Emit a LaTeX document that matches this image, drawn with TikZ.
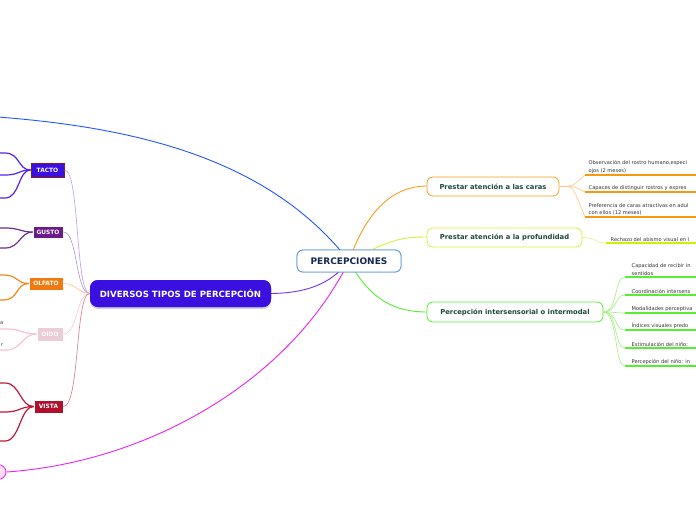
\documentclass[tikz,border=0pt]{standalone}
\usepackage{fontspec}
\setmainfont{DejaVu Sans}
\usetikzlibrary{shapes.geometric,shadows}
\definecolor{percborder}{HTML}{5B9BD5}
\definecolor{perctext}{HTML}{142850}
\definecolor{branchtext}{HTML}{1B4A3C}
\definecolor{orangeB}{HTML}{F5A020}
\definecolor{orangeL}{HTML}{FFC880}
\definecolor{orangeU}{HTML}{F59A10}
\definecolor{yellowB}{HTML}{D8F040}
\definecolor{yellowU}{HTML}{D0F000}
\definecolor{greenB}{HTML}{55EE33}
\definecolor{greenL}{HTML}{A0F080}
\definecolor{blueline}{HTML}{2255FF}
\definecolor{magline}{HTML}{EE22EE}
\definecolor{purpline}{HTML}{7733EE}
\definecolor{violetF}{HTML}{3A10E0}
\definecolor{tactoB}{HTML}{8B1A1A}
\definecolor{gustoF}{HTML}{6A1A8A}
\definecolor{olfatoF}{HTML}{F07A10}
\definecolor{oidoF}{HTML}{ECCCD6}
\definecolor{vistaF}{HTML}{B0102A}
\definecolor{tactoL}{HTML}{5522EE}
\definecolor{gustoL}{HTML}{6B3090}
\definecolor{olfatoL}{HTML}{F08A1A}
\definecolor{oidoL}{HTML}{F8C4D4}
\definecolor{vistaL}{HTML}{C01A3A}
\definecolor{leaftext}{HTML}{333333}
\tikzset{
  mainbox/.style={draw=percborder, line width=0.8pt, fill=white, rounded corners=6pt, inner sep=0pt,
    font=\fontsize{9}{10}\selectfont\bfseries, text=perctext},
  branchbox/.style={line width=0.8pt, fill=white, rounded corners=6pt, inner sep=0pt,
    font=\fontsize{6.8}{8}\selectfont\bfseries, text=branchtext, minimum height=19pt},
  subbox/.style={inner sep=0pt, font=\fontsize{5.9}{6.5}\selectfont\bfseries, text=white, draw=white, line width=0.6pt},
  leaf/.style={inner sep=0.5pt, font=\fontsize{5.1}{7.4}\selectfont, text=leaftext, align=left, anchor=south west},
  thin/.style={line width=0.6pt},
  uline/.style={line width=1.5pt},
  lleaf/.style={line width=1.2pt}
}
\begin{document}
\begin{tikzpicture}[x=1pt,y=-1pt]
\useasboundingbox (0,0) rectangle (696,520);
\clip (0,0) rectangle (696,520);
\fill[white] (0,0) rectangle (696,520);

\coordinate (blueend) at (-2,117);

\node[mainbox, minimum width=104pt, minimum height=22pt] (perc) at (349,261) {PERCEPCIONES};
\node[ellipse, draw=magline, fill=oidoF!70!magline!30, line width=0.8pt, minimum width=16pt, minimum height=15pt, inner sep=0pt] (pinkell) at (-2,472) {};
\node[fill=violetF, rounded corners=8pt, inner sep=0pt, minimum width=181pt, minimum height=27pt,
  drop shadow={opacity=0.35, shadow xshift=0pt, shadow yshift=-2pt},
  font=\fontsize{8.6}{9}\selectfont\bfseries, text=white] (div) at (180.5,293.5) {DIVERSOS TIPOS DE PERCEPCIÓN};

\draw[blueline, line width=0.9pt] (blueend) .. controls (140,128) and (270,160) .. (perc.center);
\draw[magline, line width=0.9pt] (pinkell.east) .. controls (150,462) and (290,380) .. (perc.center);
\draw[purpline, line width=0.9pt] (div.east) .. controls (305,293) and (330,285) .. (perc.center);
\draw[orangeB, line width=0.9pt] (perc.center) .. controls (365,215) and (390,186) .. (427,186);
\draw[yellowB, line width=0.9pt] (perc.center) .. controls (390,240) and (400,237) .. (427,237);
\draw[greenB, line width=0.9pt] (perc.center) .. controls (370,300) and (395,312) .. (427,312);

\node[mainbox, minimum width=104pt, minimum height=22pt] (percTop) at (349,261) {PERCEPCIONES};
\node[fill=violetF, rounded corners=8pt, inner sep=0pt, minimum width=181pt, minimum height=27pt,
  font=\fontsize{8.6}{9}\selectfont\bfseries, text=white] (divTop) at (180.5,293.5) {DIVERSOS TIPOS DE PERCEPCIÓN};

\node[branchbox, draw=orangeB, minimum width=132pt] (caras) at (493,186.5) {Prestar atención a las caras};
\node[branchbox, draw=yellowB, minimum width=155pt] (prof) at (504.5,237.5) {Prestar atención a la profundidad};
\node[branchbox, draw=greenB, minimum width=176pt, minimum height=20pt] (inter) at (515,312) {Percepción intersensorial o intermodal};

\coordinate (c1) at (585,175);
\coordinate (c2) at (585,192);
\coordinate (c3) at (585,217);
\foreach \c in {c1,c2,c3}{
  \draw[orangeL, thin] (caras.east) .. controls (575,186) and (572,186) .. (\c);
  \draw[orangeU, uline] (\c) -- ++(120,0);
}
\node[leaf] (l1) at (588,174) {Observación del rostro humano,especi\\ojos (2 meses)};
\node[leaf] (l2) at (588,191) {Capaces de distinguir rostros y expres};
\node[leaf] (l3) at (588,216) {Preferencia de caras atractivas en adul\\con ellos (12 meses)};

\coordinate (p1) at (606,243);
\draw[yellowB!70, thin] (prof.east) .. controls (595,237) and (595,243) .. (p1);
\draw[yellowU, uline] (p1) -- ++(100,0);
\node[leaf] (l4) at (610,242) {Rechazo del abismo visual en l};

\foreach \n/\y in {i1/277,i2/295,i3/313,i4/330,i5/348,i6/366}{
  \coordinate (\n) at (625,\y);
  \draw[greenL, thin] (inter.east) .. controls (618,312) and (614,\y) .. (\n);
  \draw[greenB, uline] (\n) -- ++(80,0);
}
\node[leaf] (m1) at (631,276) {Capacidad de recibir in\\sentidos};
\node[leaf] (m2) at (631,294) {Coordinación intersens};
\node[leaf] (m3) at (631,312) {Modalidades perceptiva};
\node[leaf] (m4) at (631,329) {Índices visuales predo};
\node[leaf] (m5) at (631,347) {Estimulación del niño:};
\node[leaf] (m6) at (631,365) {Percepción del niño: in};

\node[subbox, fill=violetF, draw=tactoB, line width=0.9pt, minimum width=33pt, minimum height=14pt] (tacto) at (47.5,170) {TACTO};
\node[subbox, fill=gustoF, minimum width=30pt, minimum height=12pt] (gusto) at (48,232) {GUSTO};
\node[subbox, fill=olfatoF, minimum width=34pt, minimum height=13pt] (olfato) at (46,283.5) {OLFATO};
\node[subbox, fill=oidoF, text=white!92!oidoF, minimum width=26pt, minimum height=14pt] (oido) at (50,334) {OÍDO};
\node[subbox, fill=vistaF, minimum width=29pt, minimum height=13pt] (vista) at (48.5,406.5) {VISTA};

\draw[purpline!50, thin] (div.west) .. controls (75,293) and (80,170) .. (tacto.east);
\draw[gustoL!50, thin] (div.west) .. controls (75,293) and (78,232) .. (gusto.east);
\draw[orangeL, thin] (div.west) .. controls (78,293) and (76,283.5) .. (olfato.east);
\draw[oidoL, thin] (div.west) .. controls (76,293) and (78,334) .. (oido.east);
\draw[vistaL!60, thin] (div.west) .. controls (75,293) and (80,406.5) .. (vista.east);

\foreach \y in {153,175,198}{
  \draw[tactoL, lleaf] (tacto.west) .. controls (18,170) and (20,\y) .. (5,\y) -- (-5,\y);
}
\foreach \y in {228,248}{
  \draw[gustoL, lleaf] (gusto.west) .. controls (20,232) and (20,\y) .. (5,\y) -- (-5,\y);
}
\foreach \y in {275,300}{
  \draw[olfatoL, lleaf] (olfato.west) .. controls (16,283.5) and (18,\y) .. (4,\y) -- (-5,\y);
}
\foreach \y in {329,350}{
  \draw[oidoL, lleaf] (oido.west) .. controls (22,334) and (22,\y) .. (6,\y) -- (-5,\y);
}
\foreach \y in {383,412,441}{
  \draw[vistaL, lleaf] (vista.west) .. controls (20,406.5) and (20,\y) .. (5,\y) -- (-5,\y);
}
\node[leaf, anchor=east, inner sep=0pt] (oa) at (3.5,323) {a};
\node[leaf, anchor=east, inner sep=0pt] (or) at (3.5,345) {r};
\end{tikzpicture}
\end{document}
